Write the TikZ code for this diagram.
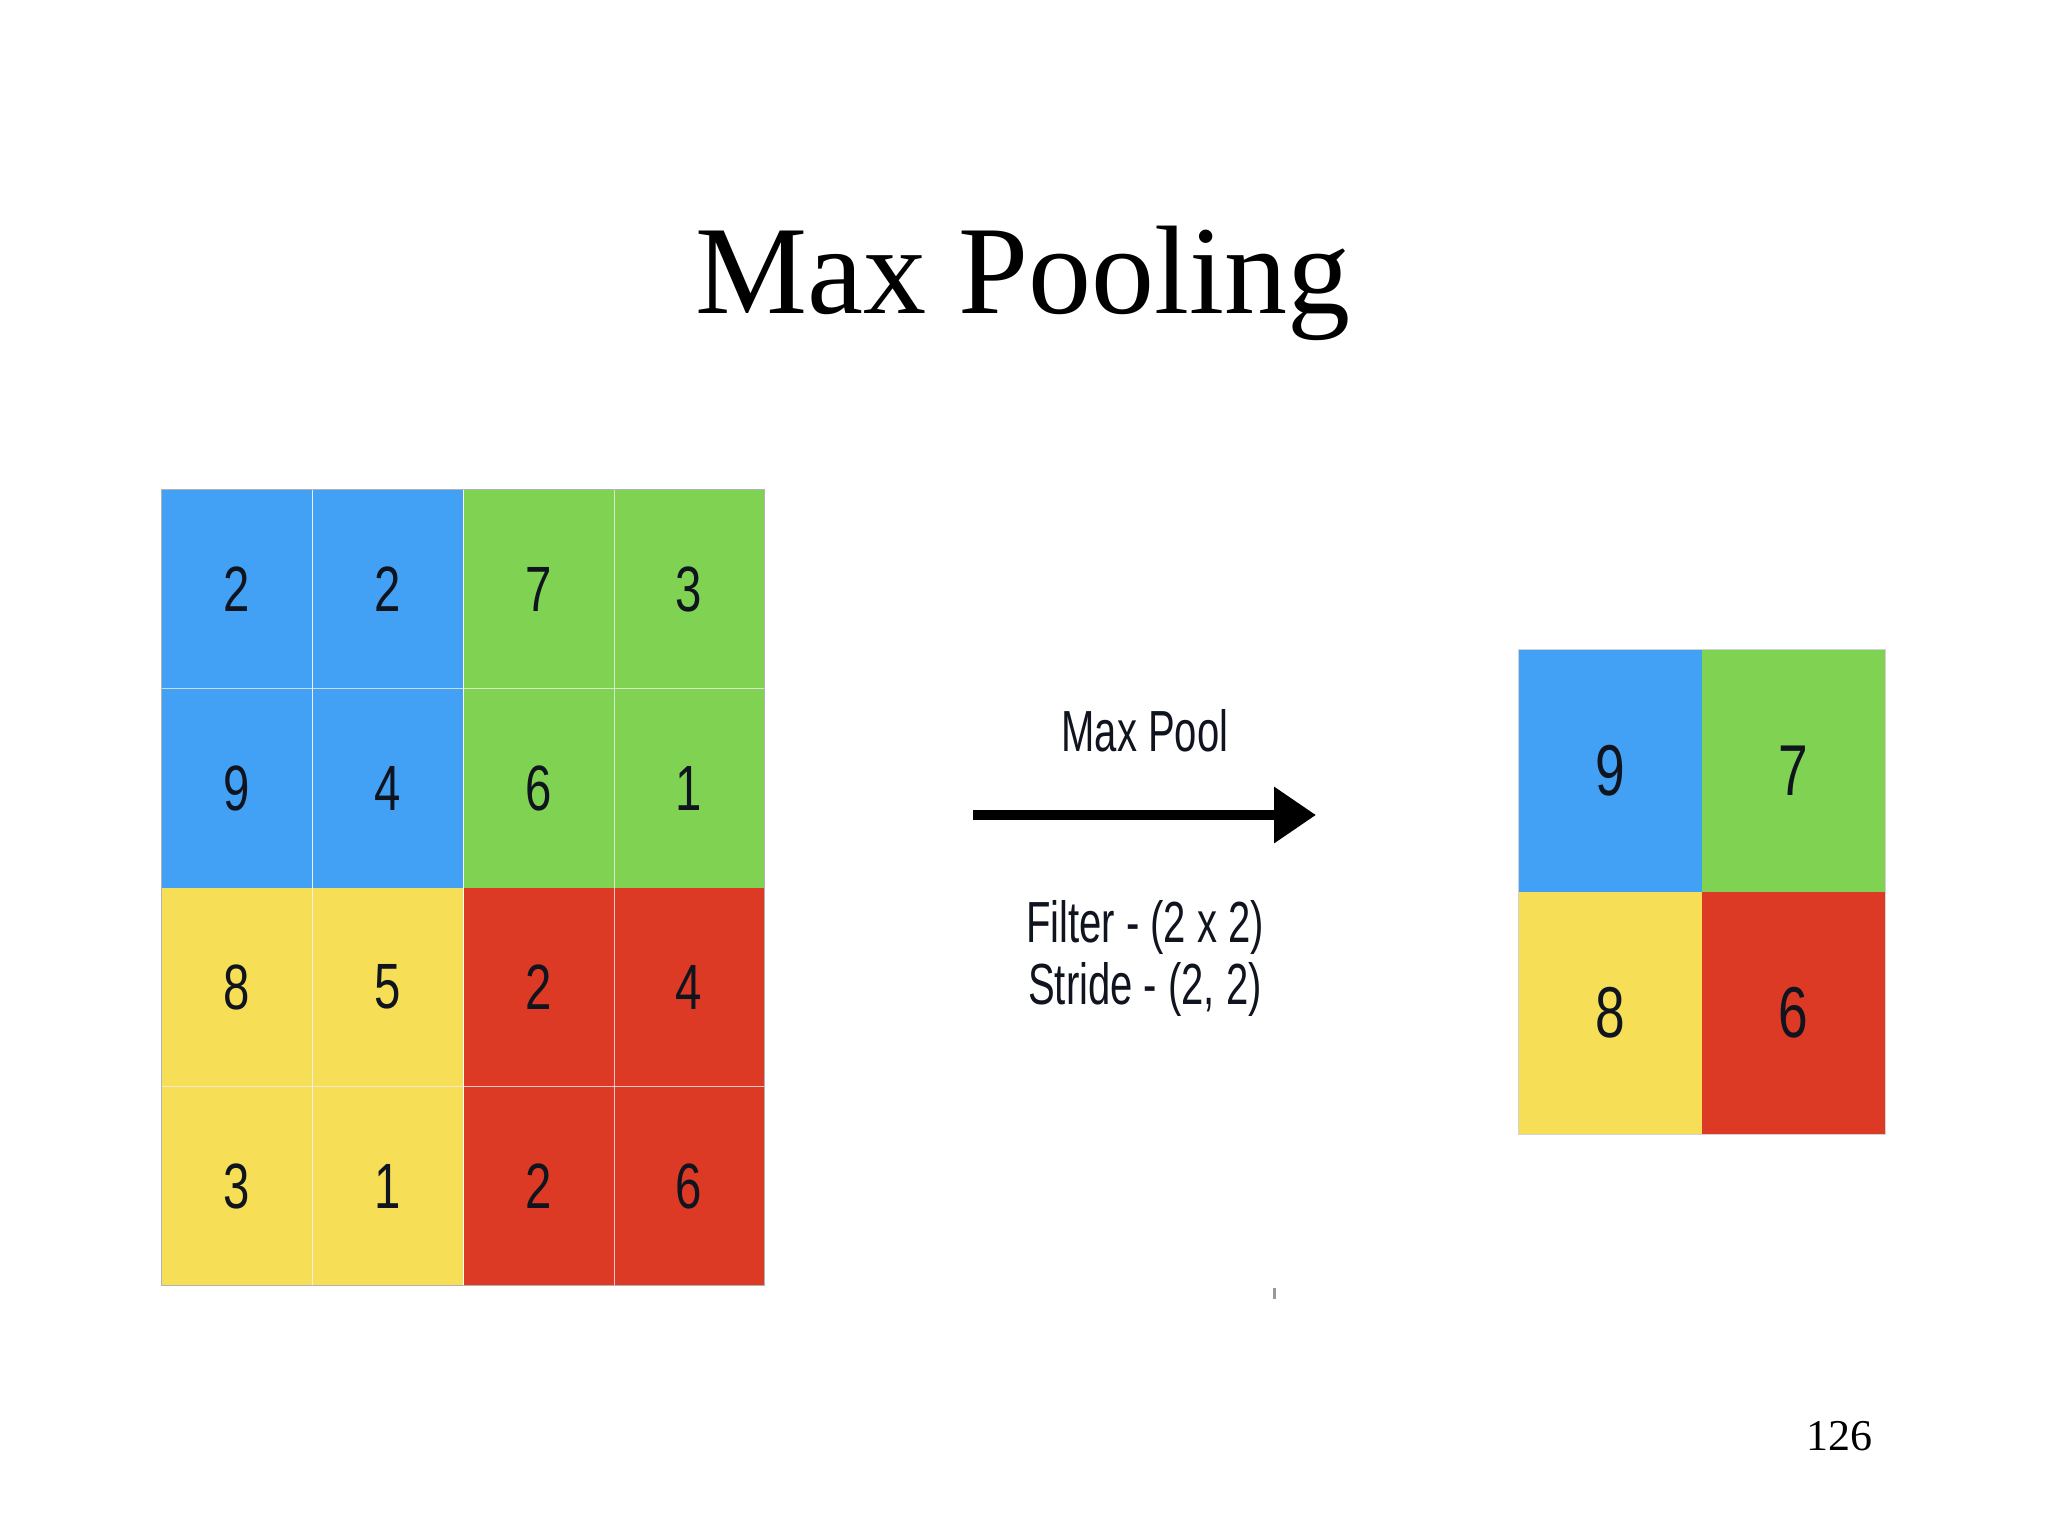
\documentclass[tikz,border=0pt]{standalone}
\usepackage{fontspec}
\usepackage{graphicx}
\setmainfont{Liberation Serif}
\newfontfamily\arialf{Liberation Sans}
\usetikzlibrary{arrows.meta}
\definecolor{cblue}{RGB}{66,161,245}
\definecolor{cgreen}{RGB}{128,211,82}
\definecolor{cyellow}{RGB}{246,222,86}
\definecolor{cred}{RGB}{220,58,36}
\definecolor{ink}{RGB}{15,20,30}
\newcommand{\narrow}[1]{\scalebox{0.74}[1]{#1}}
\newcommand{\narrowt}[1]{\scalebox{0.69}[1]{#1}}
\tikzset{
  cell/.style={draw=none, minimum width=150pt, minimum height=199pt, inner sep=0pt, text=ink, font=\arialf\fontsize{64}{64}\selectfont},
  bigcell/.style={draw=none, minimum width=183pt, minimum height=242pt, inner sep=0pt, text=ink, font=\arialf\fontsize{72}{72}\selectfont},
  lbl/.style={inner sep=0pt, text=ink, font=\arialf\fontsize{58}{64}\selectfont},
  seam/.style={draw=white!85!gray, line width=1.3pt, opacity=0.8}
}
\begin{document}
\begin{tikzpicture}[x=1pt,y=-1pt]
\useasboundingbox (0,0) rectangle (2048,1536);
\fill[white] (0,0) rectangle (2048,1536);
% title
\node[inner sep=0pt, anchor=base, font=\fontsize{126}{126}\selectfont] (title) at (1023,313) {Max Pooling};
% left grid
\node[cell, fill=cblue]   (a11) at (237,589)  {\narrow{2}};
\node[cell, fill=cblue]   (a12) at (388,589)  {\narrow{2}};
\node[cell, fill=cgreen]  (a13) at (539,589)  {\narrow{7}};
\node[cell, fill=cgreen]  (a14) at (689,589)  {\narrow{3}};
\node[cell, fill=cblue]   (a21) at (237,788)  {\narrow{9}};
\node[cell, fill=cblue]   (a22) at (388,788)  {\narrow{4}};
\node[cell, fill=cgreen]  (a23) at (539,788)  {\narrow{6}};
\node[cell, fill=cgreen]  (a24) at (689,788)  {\narrow{1}};
\node[cell, fill=cyellow] (a31) at (237,987)  {\narrow{8}};
\node[cell, fill=cyellow] (a32) at (388,987)  {\narrow{5}};
\node[cell, fill=cred]    (a33) at (539,987)  {\narrow{2}};
\node[cell, fill=cred]    (a34) at (689,987)  {\narrow{4}};
\node[cell, fill=cyellow] (a41) at (237,1186) {\narrow{3}};
\node[cell, fill=cyellow] (a42) at (388,1186) {\narrow{1}};
\node[cell, fill=cred]    (a43) at (539,1186) {\narrow{2}};
\node[cell, fill=cred]    (a44) at (689,1186) {\narrow{6}};
% seams inside the 2x2 blocks
\draw[seam] (a11.north east) -- (a41.south east);
\draw[seam] (a13.north east) -- (a43.south east);
\draw[seam] (a11.south west) -- (a14.south east);
\draw[seam] (a31.south west) -- (a34.south east);
\draw[gray!60, line width=1.3pt] (a11.north west) rectangle (a44.south east);
% right grid
\node[bigcell, fill=cblue]   (b11) at (1610.5,771) {\narrow{9}};
\node[bigcell, fill=cgreen]  (b12) at (1793.5,771) {\narrow{7}};
\node[bigcell, fill=cyellow] (b21) at (1610.5,1013) {\narrow{8}};
\node[bigcell, fill=cred]    (b22) at (1793.5,1013) {\narrow{6}};
\draw[gray!35, line width=1pt] (b11.north west) rectangle (b22.south east);
% arrow and labels
\coordinate (arS) at (973,815);
\coordinate (arE) at (1316,815);
\draw[line width=10pt, -{Triangle[length=42pt,width=54pt]}] (arS) -- (arE);
\node[lbl] (mp) at (1145,731) {\narrowt{Max Pool}};
\node[lbl, align=center] (fs) at (1145,958) {\narrowt{Filter - (2 x 2)}\\[-2pt]\narrowt{Stride - (2, 2)}};
% small mark
\fill[gray!80] (1272.5,1288) rectangle (1275.5,1299);
% page number
\node[inner sep=0pt, anchor=base east, font=\fontsize{44}{44}\selectfont] (pg) at (1873,1450) {126};
\end{tikzpicture}
\end{document}
